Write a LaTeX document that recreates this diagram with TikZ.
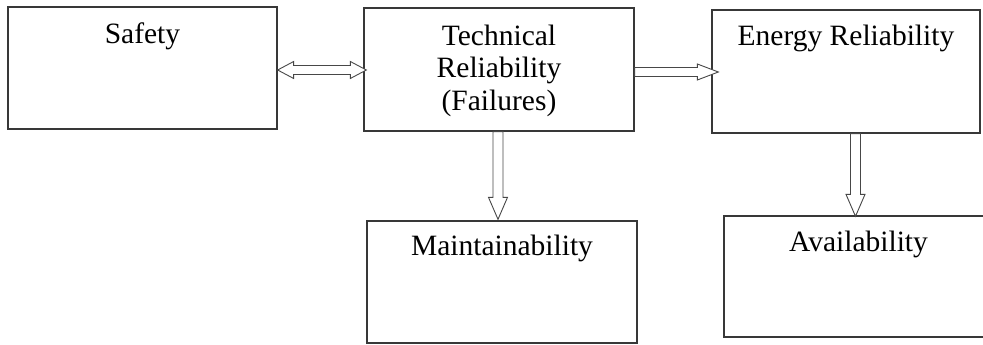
\documentclass[tikz,border=0pt]{standalone}
\usepackage{fontspec}
\setmainfont{Liberation Serif}
\usetikzlibrary{calc}
\begin{document}
\begin{tikzpicture}[x=1pt,y=1pt,
  box/.style={draw=black!78, line width=1.3pt, fill=white, inner sep=0pt},
  lbl/.style={anchor=north, inner sep=0pt, align=center,
    font=\fontsize{29.5}{32.5}\selectfont},
  blockarrow/.style={draw=black!72, line width=0.9pt, fill=white, line join=miter}]
\useasboundingbox (0,0) rectangle (983,345);
\clip (0,0) rectangle (983,345);
\fill[white] (0,0) rectangle (983,345);

% boxes
\node[box, minimum width=269pt, minimum height=122pt] (safety) at (142.5,277) {};
\node[box, minimum width=270pt, minimum height=123pt] (tech)   at (499,275.5) {};
\node[box, minimum width=268pt, minimum height=123pt] (energy) at (846,273.5) {};
\node[box, minimum width=270pt, minimum height=122pt] (maint)  at (502,63) {};
\node[box, minimum width=269pt, minimum height=121pt] (avail)  at (858.5,68.5) {};

% labels
\node[lbl] (safetyT) at ($(safety.north)+(0,-16.5)$) {Safety};
\node[lbl] (techT)   at ($(tech.north)+(0,-17)$) {Technical\\Reliability\\(Failures)};
\node[lbl] (energyT) at ($(energy.north)+(0,-15)$) {Energy Reliability};
\node[lbl] (maintT)  at ($(maint.north)+(0,-14)$) {Maintainability};
\node[lbl] (availT)  at ($(avail.north)+(0,-15.5)$) {Availability};

% two-headed block arrow: Safety <-> Technical Reliability
\draw[blockarrow] let \p1=(safety.east), \p2=(tech.west) in
  (\x1,275pt) -- (\x1+16pt,283.5pt) -- (\x1+16pt,279.5pt) -- (\x2-13pt,279.5pt)
  -- (\x2-13pt,283.5pt) -- (\x2+3pt,275pt) -- (\x2-13pt,266.5pt) -- (\x2-13pt,270.5pt)
  -- (\x1+16pt,270.5pt) -- (\x1+16pt,266.5pt) -- cycle;

% block arrow: Technical Reliability -> Energy Reliability
\draw[blockarrow] let \p1=(tech.east), \p2=(energy.west) in
  (\x1,268.5pt) -- (\x2-14pt,268.5pt) -- (\x2-14pt,265pt) -- (\x2+7pt,273pt)
  -- (\x2-14pt,281pt) -- (\x2-14pt,277.5pt) -- (\x1,277.5pt) -- cycle;

% block arrow: Technical Reliability -> Maintainability
\draw[blockarrow] let \p1=(tech.south), \p2=(maint.north) in
  (\x1-6pt,\y1) -- (\x1-6pt,\y2+23pt) -- (\x1-10.5pt,\y2+23pt) -- (\x1-1pt,\y2+1pt)
  -- (\x1+8.5pt,\y2+23pt) -- (\x1+4pt,\y2+23pt) -- (\x1+4pt,\y1) -- cycle;

% block arrow: Energy Reliability -> Availability
\draw[blockarrow] let \p1=(energy.south), \p2=(avail.north) in
  (\x1+4.5pt,\y1) -- (\x1+4.5pt,\y2+21pt) -- (\x1,\y2+21pt) -- (\x1+9.5pt,\y2-1pt)
  -- (\x1+19pt,\y2+21pt) -- (\x1+14.5pt,\y2+21pt) -- (\x1+14.5pt,\y1) -- cycle;
\end{tikzpicture}
\end{document}
